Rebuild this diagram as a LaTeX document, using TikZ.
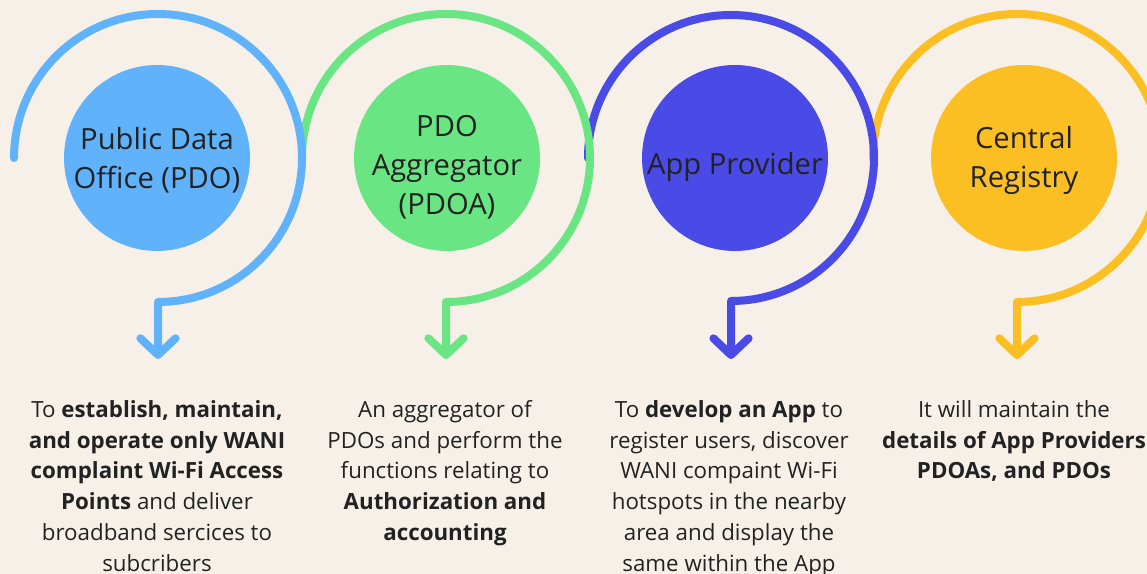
\documentclass[tikz,border=0pt]{standalone}
\usepackage{fontspec}
\setmainfont{Open Sans}
\usepackage{tikz}
\usetikzlibrary{arrows.meta}
\usepackage{xcolor}
\definecolor{paper}{RGB}{246,240,233}
\definecolor{ink}{RGB}{34,34,34}
\definecolor{pdoblue}{RGB}{96,178,250}
\definecolor{pdoagreen}{RGB}{106,229,132}
\definecolor{appviolet}{RGB}{74,74,230}
\definecolor{registryyellow}{RGB}{251,191,36}
\tikzset{%
	every hub/.style={
		circle,
		inner sep=0pt,
		minimum size=3.72cm
	},
	hub label/.style={
		align=center,
		text=ink,
		yshift=-0.05cm,
		font=\fontsize{16.6}{22.3}\selectfont
	},
	swirl/.style={
		line width=0.16cm,
		line cap=round,
		line join=round,
		-{Straight Barb[length=9.5pt, width=20pt, round]}
	},
	note/.style={
		anchor=north,
		inner sep=0pt,
		align=center,
		text=ink,
		font=\fontsize{12.7}{17.5}\selectfont
	},
}

\begin{document}
\begin{tikzpicture}[x=0.02cm, y=0.02cm]
			% Background
			\fill[paper] (0,0) rectangle (1147,574);
			\useasboundingbox (0,0) rectangle (1147,574);
			
			% Filled circles
			\node[every hub, fill=pdoblue, label={[hub label]center:Public Data\\Office (PDO)}] (pdo) at (157,416) {};
			\node[every hub, fill=pdoagreen, label={[hub label, yshift=-0.14cm]center:PDO\\Aggregator\\(PDOA)}] (pdoa) at (447,416) {};
			\node[every hub, fill=appviolet, label={[hub label, yshift=-0.12cm]center:App Provider}] (app) at (735,416) {};
			\node[every hub, fill=registryyellow, label={[hub label]center:Central\\Registry}] (registry) at (1024,416) {};
			
			% Start and end points of the swirls
			\coordinate (pdo start) at (14,416);
			\coordinate (pdoa start) at (302,416);
			\coordinate (app start) at (588,416);
			\coordinate (registry start) at (873,416);
			\coordinate (pdo end) at (158,215);
			\coordinate (pdoa end) at (446,215);
			\coordinate (app end) at (731,215);
			\coordinate (registry end) at (1017,215);
			
			% Swirls, last one first so the left one lies on top
			\draw[swirl, registryyellow] (registry start) arc[start angle=180, end angle=-90, radius=144] -- (registry end);
			\draw[swirl, appviolet] (app start) arc[start angle=180, end angle=-90, radius=143] -- (app end);
			\draw[swirl, pdoagreen] (pdoa start) arc[start angle=180, end angle=-90, radius=144] -- (pdoa end);
			\draw[swirl, pdoblue] (pdo start) arc[start angle=180, end angle=-90, radius=144] -- (pdo end);
			
			% Descriptions
			\node[note] (pdo note) at (157,174) {To \textbf{establish, maintain,}\\\textbf{and operate only WANI}\\\textbf{complaint Wi-Fi Access}\\\textbf{Points} and deliver\\broadband sercices to\\subcribers};
			\node[note] (pdoa note) at (445,174) {An aggregator of\\PDOs and perform the\\functions relating to\\\textbf{Authorization and}\\\textbf{accounting}};
			\node[note] (app note) at (729,174) {To \textbf{develop an App} to\\register users, discover\\WANI compaint Wi-Fi\\hotspots in the nearby\\area and display the\\same within the App};
			\node[note] (registry note) at (1014,174) {It will maintain the\\\textbf{details of App Providers}\\\textbf{PDOAs, and PDOs}};
		\end{tikzpicture}
\end{document}
